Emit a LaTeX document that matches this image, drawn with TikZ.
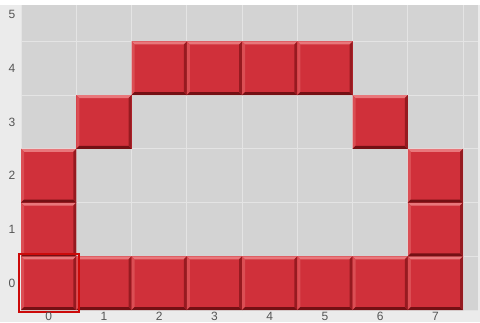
\documentclass[tikz,border=0pt]{standalone}
\usepackage{fontspec}
\setmainfont{Liberation Sans}
\usetikzlibrary{positioning}
\definecolor{stripgray}{HTML}{EBEBEB}
\definecolor{boardgray}{HTML}{D3D3D3}
\definecolor{seamgray}{HTML}{E4E4E4}
\definecolor{labelgray}{HTML}{555555}
\definecolor{brickred}{HTML}{D0303A}
\definecolor{brickhi}{HTML}{E8777B}
\definecolor{brickside}{HTML}{DB4E54}
\definecolor{brickdark}{HTML}{741014}
\definecolor{brickshade}{HTML}{961A20}
\definecolor{selred}{HTML}{CC0A0A}
\tikzset{
  brick/.style={minimum width=55.25pt,minimum height=53.7pt,inner sep=0pt,
                outer sep=0pt,fill=brickred,
    path picture={
      \fill[brickhi] (path picture bounding box.north west)
        -- (path picture bounding box.north east)
        -- ([shift={(-3,-3)}]path picture bounding box.north east)
        -- ([shift={(3,-3)}]path picture bounding box.north west) -- cycle;
      \fill[brickside] (path picture bounding box.north west)
        -- ([shift={(3,-3)}]path picture bounding box.north west)
        -- ([shift={(3,3)}]path picture bounding box.south west)
        -- (path picture bounding box.south west) -- cycle;
      \fill[brickdark] (path picture bounding box.south west)
        -- (path picture bounding box.south east)
        -- ([shift={(-3,3)}]path picture bounding box.south east)
        -- ([shift={(3,3)}]path picture bounding box.south west) -- cycle;
      \fill[brickshade] (path picture bounding box.north east)
        -- ([shift={(-3,-3)}]path picture bounding box.north east)
        -- ([shift={(-3,3)}]path picture bounding box.south east)
        -- (path picture bounding box.south east) -- cycle;
    }},
  axislabel/.style={font=\fontsize{12}{14}\selectfont,text=labelgray,inner sep=0pt},
  seam/.style={draw=seamgray,line width=0.8pt},
  selbox/.style={draw=selred,line width=2pt}
}

\begin{document}
\begin{tikzpicture}[x=1pt,y=1pt]
  \useasboundingbox (0,0) rectangle (480,322);
  \fill[stripgray] (0,0) rectangle (480,317);
  \fill[boardgray] (21,12) rectangle (478,317);
  \foreach \c in {0,...,8}
    \draw[seam] ({21+55.25*\c},12) -- ++(0,305);
  \foreach \r in {0,...,5}
    \draw[seam] (21,{12+53.7*\r}) -- (478,{12+53.7*\r});

  % bricks of the arch
  \foreach \c/\r in {0/0,1/0,2/0,3/0,4/0,5/0,6/0,7/0,0/1,7/1,0/2,7/2,
                     1/3,6/3,2/4,3/4,4/4,5/4}
    \node[brick] (t\c\r) at ({21+55.25*(\c+0.5)},{12+53.7*(\r+0.5)}) {};

  \draw[selbox] ([shift={(-2,-2)}]t00.south west) rectangle ([shift={(2.5,2.5)}]t00.north east);

  \foreach \r in {0,...,5}
    \node[axislabel] (ylab\r) at (12,{12+53.7*(\r+0.5)}) {\r};
  \foreach \c in {0,...,7}
    \node[axislabel,anchor=south] (xlab\c) at ({21+55.25*(\c+0.5)},1) {\c};
\end{tikzpicture}
\end{document}
